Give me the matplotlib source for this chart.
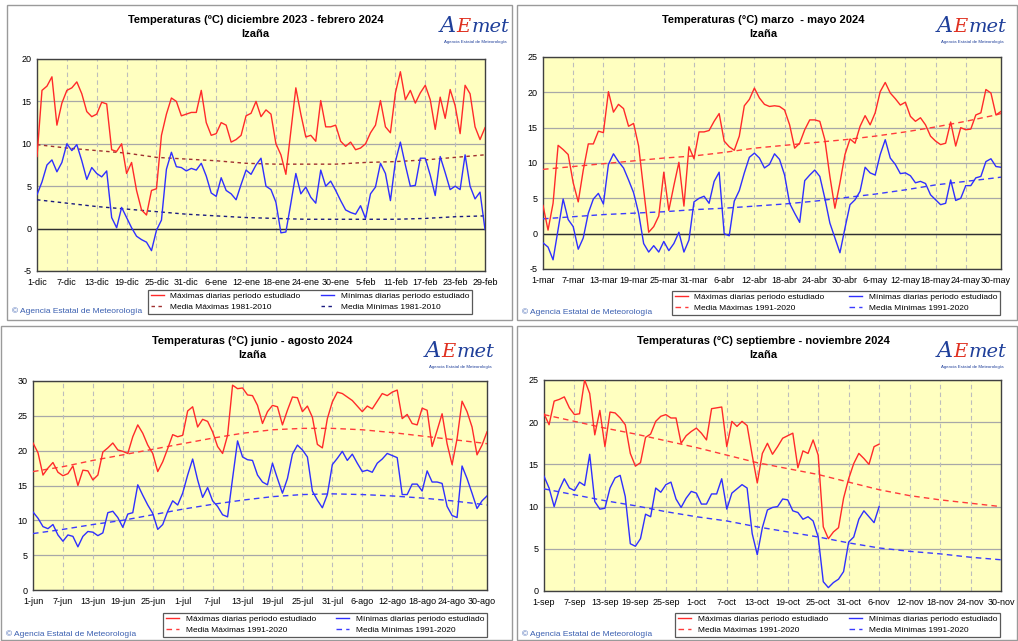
import matplotlib
matplotlib.use('Agg')
import matplotlib.pyplot as plt
from matplotlib.patches import Rectangle
import numpy as np

plt.rcParams['font.family'] = ['Liberation Sans', 'DejaVu Sans']

# ---- data (daily values, degC) ----
TITLES = ['Temperaturas (ºC) diciembre 2023 - febrero 2024',
          'Temperaturas (°C) marzo  - mayo 2024',
          'Temperaturas (°C) junio - agosto 2024',
          'Temperaturas (°C) septiembre - noviembre 2024']

TICKS_DJF = ['1-dic', '7-dic', '13-dic', '19-dic', '25-dic', '31-dic', '6-ene', '12-ene',
             '18-ene', '24-ene', '30-ene', '5-feb', '11-feb', '17-feb', '23-feb', '29-feb']
TICKS_MAM = ['1-mar', '7-mar', '13-mar', '19-mar', '25-mar', '31-mar', '6-abr', '12-abr',
             '18-abr', '24-abr', '30-abr', '6-may', '12-may', '18-may', '24-may', '30-may']
TICKS_JJA = ['1-jun', '7-jun', '13-jun', '19-jun', '25-jun', '1-jul', '7-jul', '13-jul',
             '19-jul', '25-jul', '31-jul', '6-ago', '12-ago', '18-ago', '24-ago', '30-ago']
TICKS_SON = ['1-sep', '7-sep', '13-sep', '19-sep', '25-sep', '1-oct', '7-oct', '13-oct',
             '19-oct', '25-oct', '31-oct', '6-nov', '12-nov', '18-nov', '24-nov', '30-nov']

MAX_DJF = [8.5, 16.3, 16.8, 17.9, 12.2, 14.8, 16.3, 16.6, 17.3, 15.9,
           13.8, 13.2, 13.5, 14.9, 14.7, 9.3, 9.1, 10.0, 6.5, 7.8,
           4.5, 2.2, 1.6, 4.5, 4.7, 11.0, 13.5, 15.4, 15.0, 13.3,
           13.5, 13.7, 13.7, 16.3, 12.5, 11.0, 11.2, 12.5, 12.2, 10.2,
           10.5, 11.0, 13.3, 13.6, 15.0, 13.2, 14.0, 13.5, 10.0, 8.7,
           6.4, 11.5, 16.6, 13.5, 10.8, 11.0, 10.3, 15.1, 12.0, 12.0,
           12.2, 10.3, 9.7, 10.2, 9.3, 9.5, 10.0, 11.3, 12.2, 15.1,
           12.0, 11.3, 16.0, 18.5, 15.2, 16.3, 14.8, 16.0, 16.9, 15.2,
           11.7, 15.5, 13.0, 16.4, 14.5, 11.2, 16.9, 15.9, 12.0, 10.5, 11.9]
MIN_DJF = [4.0, 5.5, 7.5, 8.1, 6.7, 7.8, 10.0, 9.2, 9.9, 8.0,
           5.8, 7.2, 6.5, 6.1, 6.8, 1.3, 0.1, 2.5, 1.3, 0.1,
           -0.9, -1.3, -1.6, -2.6, -0.2, 1.0, 7.0, 9.0, 7.3, 7.2,
           6.8, 7.1, 6.9, 7.7, 6.2, 4.2, 3.8, 6.0, 4.5, 4.1,
           3.4, 5.2, 6.9, 6.4, 7.5, 8.3, 5.0, 4.6, 3.1, -0.5,
           -0.4, 3.0, 6.5, 4.1, 4.9, 3.7, 3.0, 6.9, 5.0, 5.6,
           4.5, 3.3, 2.2, 1.9, 1.7, 2.7, 1.2, 4.1, 4.9, 7.7,
           6.5, 3.3, 7.9, 10.2, 7.5, 5.0, 5.1, 8.3, 8.3, 6.3,
           3.9, 8.5, 6.6, 4.6, 5.0, 4.6, 8.7, 5.0, 3.5, 4.3, -0.1]

MAX_MAM = [4.0, 0.5, 4.3, 12.5, 11.9, 11.2, 7.2, 4.5, 9.0, 12.7,
           12.7, 14.5, 14.3, 20.1, 17.2, 18.3, 17.7, 15.2, 15.6, 12.4,
           6.2, 0.2, 1.0, 2.5, 8.7, 3.3, 6.8, 10.1, 3.9, 12.3,
           10.6, 14.4, 14.4, 14.6, 15.9, 17.0, 13.1, 12.3, 11.8, 13.8,
           18.1, 19.0, 20.6, 19.2, 18.3, 18.0, 18.1, 18.0, 17.5, 15.4,
           12.1, 12.8, 14.7, 16.1, 16.1, 15.9, 13.3, 8.1, 3.6, 7.2,
           11.2, 13.4, 12.8, 15.2, 16.7, 15.4, 17.1, 20.1, 21.4, 19.9,
           19.1, 18.2, 18.6, 16.6, 15.9, 16.4, 15.4, 13.8, 13.1, 12.6,
           12.8, 15.8, 12.4, 15.0, 14.7, 14.8, 16.8, 17.1, 20.4, 19.9,
           16.8, 17.3]
MIN_MAM = [-1.3, -1.9, -3.7, 0.6, 4.9, 2.0, 1.0, -2.2, -0.6, 2.9,
           4.9, 5.7, 4.2, 9.8, 11.3, 10.2, 9.3, 7.6, 5.8, 2.9,
           -1.4, -2.6, -1.7, -2.6, -1.1, -2.4, -1.4, 0.2, -2.6, -0.9,
           4.5, 5.0, 5.3, 4.3, 7.4, 8.7, 0.0, -0.3, 4.6, 6.1,
           8.6, 10.8, 11.4, 10.7, 9.3, 9.8, 11.3, 10.5, 8.3, 4.3,
           2.9, 1.6, 7.5, 8.3, 9.0, 8.1, 5.0, 1.5, -0.6, -2.7,
           0.8, 4.1, 4.8, 6.0, 9.4, 8.6, 8.3, 11.2, 13.3, 10.7,
           9.8, 8.5, 8.6, 8.2, 7.2, 7.4, 7.1, 5.5, 4.8, 4.1,
           4.3, 7.6, 4.7, 5.0, 6.8, 6.8, 7.9, 8.1, 10.2, 10.6,
           9.5, 9.4]

MAX_JJA = [21.1, 19.7, 16.5, 17.5, 18.3, 16.9, 16.4, 16.7, 17.8, 15.0,
           17.2, 17.1, 15.8, 16.5, 19.8, 20.4, 21.1, 20.1, 19.9, 19.6,
           22.0, 23.7, 22.5, 20.8, 19.6, 17.0, 18.4, 20.3, 22.3, 22.0,
           22.2, 25.7, 26.3, 23.4, 24.5, 24.2, 22.7, 20.6, 19.6, 22.2,
           29.4, 28.9, 29.0, 28.0, 27.9, 26.5, 23.9, 25.6, 26.5, 26.3,
           23.7, 25.8, 27.7, 27.6, 25.6, 26.4, 24.8, 20.9, 20.4, 24.6,
           27.0, 28.4, 28.2, 27.7, 27.2, 26.4, 25.6, 26.4, 26.0, 27.1,
           28.2, 27.9, 28.4, 28.7, 24.6, 25.2, 23.9, 23.7, 26.1, 25.8,
           20.6, 22.9, 25.3, 21.0, 18.0, 21.7, 27.1, 25.6, 23.4, 19.4,
           20.8, 22.7]
MIN_JJA = [11.2, 10.3, 9.1, 8.8, 9.4, 7.9, 7.0, 7.9, 7.7, 6.2,
           7.7, 8.4, 8.3, 7.8, 8.2, 11.1, 11.3, 10.4, 9.0, 10.9,
           11.1, 15.1, 13.6, 12.2, 11.0, 8.7, 9.4, 11.3, 12.8, 12.2,
           13.9, 16.5, 18.8, 15.8, 13.3, 14.7, 12.8, 12.0, 10.8, 10.5,
           16.0, 21.4, 19.1, 18.7, 18.6, 16.5, 15.5, 15.1, 18.2, 16.0,
           13.9, 16.0, 19.5, 20.8, 20.1, 19.1, 14.2, 12.9, 11.8, 13.7,
           18.0, 18.9, 19.9, 18.6, 19.5, 18.2, 17.0, 17.2, 16.9, 18.2,
           18.8, 19.6, 19.3, 19.0, 13.7, 13.7, 15.2, 15.2, 14.2, 17.1,
           15.5, 15.5, 15.3, 12.0, 10.7, 10.4, 17.8, 16.0, 13.9, 11.7,
           12.8, 13.5]

MAX_SON = [21.0, 19.7, 22.5, 22.7, 23.0, 21.7, 20.9, 21.0, 25.0, 23.4,
           18.5, 21.4, 17.1, 21.2, 21.1, 20.5, 19.7, 16.3, 14.8, 15.2,
           18.2, 18.6, 20.1, 20.7, 20.9, 20.5, 20.5, 17.5, 18.4, 18.9,
           19.3, 18.7, 17.9, 21.6, 21.7, 21.8, 17.1, 20.1, 19.5, 20.1,
           19.6, 16.1, 12.8, 16.3, 17.5, 16.2, 17.1, 18.1, 18.4, 18.7,
           14.6, 16.6, 16.3, 17.9, 16.1, 7.6, 6.2, 7.0, 7.5, 11.0,
           13.3, 15.1, 16.3, 15.7, 15.0, 17.1, 17.4]
MIN_SON = [13.6, 12.2, 10.0, 12.0, 13.3, 12.2, 11.9, 12.9, 12.5, 16.2,
           10.6, 9.7, 9.8, 12.2, 13.4, 13.7, 11.2, 5.6, 5.3, 6.2,
           9.1, 8.8, 12.2, 11.7, 12.6, 12.9, 10.9, 9.9, 11.0, 11.8,
           11.6, 10.3, 10.3, 11.5, 11.5, 13.3, 9.7, 11.6, 12.1, 12.6,
           12.2, 6.8, 4.3, 7.5, 9.6, 9.9, 10.0, 10.9, 10.8, 9.5,
           9.3, 8.5, 8.8, 8.3, 6.4, 1.1, 0.4, 1.0, 1.4, 2.3,
           5.8, 6.4, 8.5, 9.5, 8.8, 8.1, 10.0]

# climatological means, read at every tick day (plus last day)
CLIM_DAYS_90 = [0, 6, 12, 18, 24, 30, 36, 42, 48, 54, 60, 66, 72, 78, 84, 90]
CLIM_DAYS_91 = CLIM_DAYS_90 + [91]
CMAX_DJF = [9.9, 9.5, 9.2, 8.9, 8.4, 8.2, 8.0, 7.7, 7.6, 7.6, 7.6, 7.8, 7.9, 8.1, 8.4, 8.7]
CMIN_DJF = [3.4, 3.0, 2.6, 2.3, 2.0, 1.7, 1.5, 1.3, 1.2, 1.1, 1.1, 1.1, 1.1, 1.2, 1.4, 1.5]
CMAX_MAM = [9.1, 9.5, 9.9, 10.3, 10.7, 11.0, 11.5, 12.1, 12.5, 12.9, 13.3, 13.8, 14.4, 15.1, 15.9, 16.8, 17.0]
CMIN_MAM = [2.1, 2.4, 2.7, 2.9, 3.1, 3.4, 3.6, 3.9, 4.2, 4.6, 5.1, 5.6, 6.2, 6.9, 7.4, 7.9, 8.0]
CMAX_JJA = [17.0, 17.7, 18.6, 19.4, 20.2, 21.0, 21.8, 22.5, 23.0, 23.2, 23.2, 23.0, 22.6, 22.1, 21.6, 21.1, 21.0]
CMIN_JJA = [8.1, 8.7, 9.4, 10.0, 10.8, 11.6, 12.3, 12.9, 13.4, 13.7, 13.8, 13.7, 13.5, 13.2, 12.8, 12.3, 12.2]
CMAX_SON = [20.9, 20.1, 19.3, 18.6, 17.8, 17.0, 16.1, 15.2, 14.5, 13.8, 12.9, 12.0, 11.3, 10.8, 10.4, 10.0]
CMIN_SON = [12.1, 11.4, 10.7, 10.1, 9.4, 8.8, 8.3, 7.6, 7.0, 6.4, 5.7, 5.1, 4.7, 4.4, 4.0, 3.7]

W, H = 1018, 641
BLUE_TXT = '#3a5fb0'


def fx(px):
    return px / W


def fy(py):
    return 1 - py / H


def draw_logo(fig, renderer, lx, ly):
    """AEMET logo approximation: letters placed side by side, no overlap"""
    x = lx
    for txt, col, size in [('A', '#1f3f9a', 16), ('E', '#e03020', 14), ('met', '#1f3f9a', 14)]:
        t = fig.text(fx(x), fy(ly), txt, color=col, fontsize=size, style='italic',
                     ha='left', va='baseline', family='DejaVu Serif')
        bb = t.get_window_extent(renderer)
        x += bb.width + 0.5
    fig.text(fx((lx + x) / 2), fy(ly + 10), 'Agencia Estatal de Meteorología',
             color='#1f3f9a', fontsize=3.2, ha='center', va='center')


def draw_panel(fig, renderer, frame, axbox, title, ticks, tmax, tmin, cdays, cmax, cmin,
               xmax, ylim, ref, dark, legbox, logo):
    # outer frame of the panel
    x0, y0, x1, y1 = frame
    fig.patches.append(Rectangle((fx(x0), fy(y1)), fx(x1 - x0), (y1 - y0) / H,
                                 transform=fig.transFigure, fill=False,
                                 edgecolor='#9a9a9a', lw=1.0))
    l, t, r, b = axbox
    ax = fig.add_axes([fx(l), fy(b), fx(r - l), (b - t) / H])
    ax.set_facecolor('#ffffc0')
    ax.set_xlim(0, xmax)
    ax.set_ylim(*ylim)
    yt = np.arange(ylim[0], ylim[1] + 1, 5)
    ax.set_yticks(yt)
    ax.set_yticklabels([str(v) for v in yt], fontsize=6.5)
    ax.set_xticks(np.arange(0, 91, 6))
    ax.set_xticklabels(ticks, fontsize=6.5)
    ax.tick_params(axis='x', length=0, pad=5)
    ax.tick_params(axis='y', length=0, pad=4)
    for v in yt:
        ax.axhline(v, color='#a8a8a8', lw=0.9, zorder=1)
    for v in np.arange(6, 90, 6):
        ax.axvline(v, color='#bdbdbd', lw=0.8, ls=(0, (4, 3)), zorder=1)
    if ylim[0] < 0:
        ax.axhline(0, color='#303030', lw=1.0, zorder=2)
    for s in ax.spines.values():
        s.set_color('#404040')
        s.set_linewidth(1.0)

    days = np.arange(len(tmax))
    if dark:
        cm_max, cm_min, dash = '#a03030', '#1a1a80', (0, (2.5, 2.5))
    else:
        cm_max, cm_min, dash = '#ff3b3b', '#3b3bff', (0, (4, 3))
    h1, = ax.plot(days, tmax, color='#ff2a2a', lw=1.0, zorder=4)
    h2, = ax.plot(days, tmin, color='#2f2fff', lw=1.0, zorder=4)
    h3, = ax.plot(cdays, cmax, color=cm_max, lw=1.0, ls=dash, zorder=3)
    h4, = ax.plot(cdays, cmin, color=cm_min, lw=1.0, ls=dash, zorder=3)

    cx = (x0 + x1) / 2 - 4
    fig.text(fx(cx), fy(y0 + 15), title, ha='center', va='center',
             fontsize=8, fontweight='bold')
    fig.text(fx(cx), fy(y0 + 29), 'Izaña', ha='center', va='center',
             fontsize=8, fontweight='bold')

    draw_logo(fig, renderer, *logo)

    lb = legbox
    leg = fig.legend([h1, h3, h2, h4],
                     ['Máximas diarias periodo estudiado', 'Media Máximas ' + ref,
                      'Mínimas diarias periodo estudiado', 'Media Mínimas ' + ref],
                     ncol=2, fontsize=6, loc='upper left',
                     bbox_to_anchor=(fx(lb[0]), fy(lb[3]), fx(lb[2] - lb[0]), (lb[3] - lb[1]) / H),
                     mode='expand', frameon=True, fancybox=False, handlelength=1.6,
                     handletextpad=0.8, columnspacing=1.2, borderpad=0.3,
                     labelspacing=0.35, borderaxespad=0)
    leg.get_frame().set_edgecolor('#303030')
    leg.get_frame().set_linewidth(0.9)
    fig.text(fx(x0 + 5), fy(legbox[3] - 6), '© Agencia Estatal de Meteorología',
             color=BLUE_TXT, fontsize=6, ha='left', va='center')
    return ax


def main():
    fig = plt.figure(figsize=(W / 100, H / 100), dpi=100)
    renderer = fig.canvas.get_renderer()

    draw_panel(fig, renderer, (7, 5, 512, 320), (37, 59, 485, 271), TITLES[0], TICKS_DJF,
               MAX_DJF, MIN_DJF, CLIM_DAYS_90, CMAX_DJF, CMIN_DJF, 90, (-5, 20),
               '1981-2010', True, (148, 290, 472, 317), (440, 32))
    draw_panel(fig, renderer, (517, 5, 1017, 320), (543, 57, 1001, 269), TITLES[1], TICKS_MAM,
               MAX_MAM, MIN_MAM, CLIM_DAYS_91, CMAX_MAM, CMIN_MAM, 91, (-5, 25),
               '1991-2020', False, (672, 291, 1000, 318), (937, 32))
    draw_panel(fig, renderer, (1, 326, 512, 640), (33, 381, 487, 590), TITLES[2], TICKS_JJA,
               MAX_JJA, MIN_JJA, CLIM_DAYS_91, CMAX_JJA, CMIN_JJA, 91, (0, 30),
               '1991-2020', False, (163, 613, 487, 640), (425, 357))
    draw_panel(fig, renderer, (517, 326, 1017, 640), (544, 380, 1001, 591), TITLES[3], TICKS_SON,
               MAX_SON, MIN_SON, CLIM_DAYS_90, CMAX_SON, CMIN_SON, 90, (0, 25),
               '1991-2020', False, (675, 613, 1000, 640), (937, 357))

    fig.savefig('out.png', dpi=100)


if __name__ == '__main__':
    main()
